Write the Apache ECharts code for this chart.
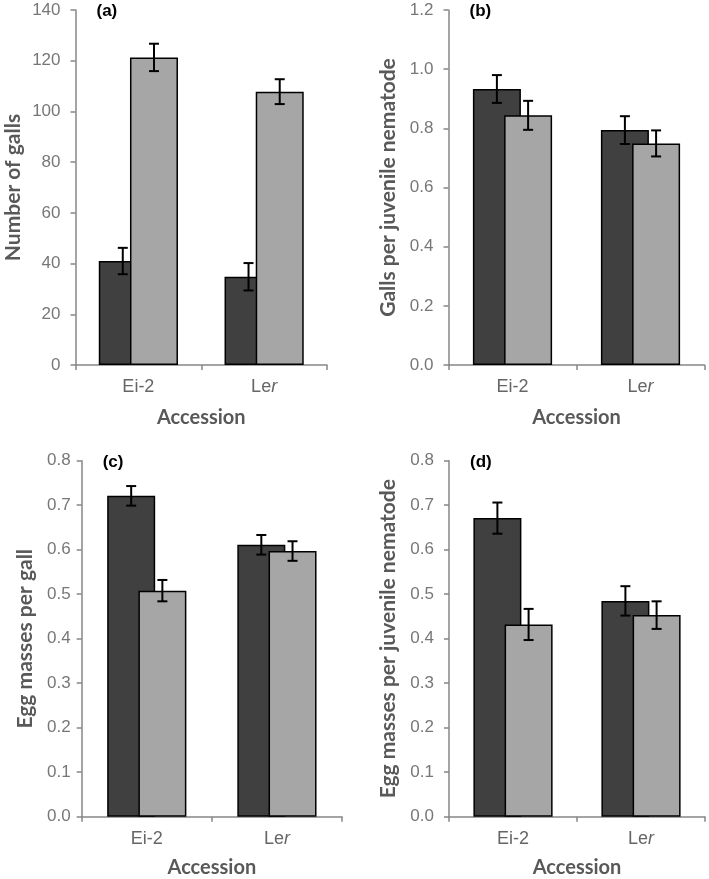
<!DOCTYPE html>
<html>
<head>
<meta charset="utf-8">
<script src="https://cdn.jsdelivr.net/npm/echarts@6/dist/echarts.min.js"></script>
<style>
html,body{margin:0;padding:0;background:#fff;}
#chart{width:709px;height:879px;}
</style>
</head>
<body>
<div id="chart"></div>
<script>
// ---- data ----
var categories = ['Ei-2', 'Ler'];

var gallsDark = [41.0, 34.8];
var gallsDarkErr = [5.2, 5.4];
var gallsLight = [121.3, 107.8];
var gallsLightErr = [5.4, 4.9];

var gpjDark = [0.933, 0.794];
var gpjDarkErr = [0.047, 0.047];
var gpjLight = [0.844, 0.749];
var gpjLightErr = [0.049, 0.044];

var emgDark = [0.721, 0.611];
var emgDarkErr = [0.022, 0.022];
var emgLight = [0.508, 0.597];
var emgLightErr = [0.024, 0.022];

var emjDark = [0.671, 0.485];
var emjDarkErr = [0.035, 0.033];
var emjLight = [0.432, 0.453];
var emjLightErr = [0.035, 0.031];

var panelLabels = ['(a)', '(b)', '(c)', '(d)'];
var yNames = ['Number of galls', 'Galls per juvenile nematode', 'Egg masses per gall', 'Egg masses per juvenile nematode'];
var xName = 'Accession';
var yMax = [140, 1.2, 0.8, 0.8];
var yStep = [20, 0.2, 0.1, 0.1];
var yDecimals = [0, 1, 1, 1];

// ---- style ----
var DARK = '#404040', LIGHT = '#a6a6a6';
var BAR_W = 48, BAR_GAP = -0.35;
var AXIS_COLOR = '#868686';
var grids = [
  {left: 75.5, top: 10, width: 251.5, height: 355},
  {left: 448.5, top: 10, width: 256, height: 355},
  {left: 81.7, top: 460.7, width: 260.3, height: 356},
  {left: 449, top: 460.7, width: 256, height: 356}
];
var yNameGaps = [52, 50, 46, 50];
var yLabelMargins = [15, 15, 11, 15];
var xNameGaps = [43, 43, 41, 41];

var panels = [
  [gallsDark, gallsDarkErr, gallsLight, gallsLightErr],
  [gpjDark, gpjDarkErr, gpjLight, gpjLightErr],
  [emgDark, emgDarkErr, emgLight, emgLightErr],
  [emjDark, emjDarkErr, emjLight, emjLightErr]
];

function errRender(offsetSign) {
  return function (params, api) {
    var c = api.value(0);
    var lo = api.coord([c, api.value(1)]);
    var hi = api.coord([c, api.value(2)]);
    var off = offsetSign * BAR_W * (1 + BAR_GAP) / 2;
    var x = lo[0] + off;
    var cap = 5;
    var st = {stroke: '#000', lineWidth: 2};
    return {
      type: 'group',
      children: [
        {type: 'line', shape: {x1: x, y1: hi[1], x2: x, y2: lo[1]}, style: st},
        {type: 'line', shape: {x1: x - cap, y1: hi[1], x2: x + cap, y2: hi[1]}, style: st},
        {type: 'line', shape: {x1: x - cap, y1: lo[1], x2: x + cap, y2: lo[1]}, style: st}
      ]
    };
  };
}

var option = {
  backgroundColor: '#fff',
  animation: false,
  title: [],
  grid: [],
  xAxis: [],
  yAxis: [],
  series: []
};

grids.forEach(function (g, i) {
  option.grid.push({left: g.left, top: g.top, width: g.width, height: g.height, containLabel: false});
  option.title.push({
    text: panelLabels[i],
    left: g.left + 16, top: g.top - 12,
    textStyle: {fontFamily: 'Liberation Sans', fontWeight: 'bold', fontSize: 17, color: '#000'}
  });
  option.xAxis.push({
    type: 'category', gridIndex: i, data: categories, boundaryGap: true,
    name: xName, nameLocation: 'middle', nameGap: xNameGaps[i],
    nameTextStyle: {fontFamily: 'Lato', fontWeight: 'bold', fontSize: 20, color: '#595959'},
    axisLine: {show: true, lineStyle: {color: AXIS_COLOR, width: 1.5}},
    axisTick: {show: true, inside: false, length: 5, alignWithLabel: false, lineStyle: {color: AXIS_COLOR, width: 1.5}},
    axisLabel: {
      margin: 13, fontFamily: 'Liberation Sans', fontSize: 18, color: '#666',
      formatter: function (v) { return v === 'Ler' ? 'Le{it|r}' : v; },
      rich: {it: {fontStyle: 'italic', fontFamily: 'Liberation Sans', fontSize: 18, color: '#666'}}
    },
    splitLine: {show: false}
  });
  option.yAxis.push({
    type: 'value', gridIndex: i, min: 0, max: yMax[i], interval: yStep[i],
    name: yNames[i], nameLocation: 'middle', nameGap: yNameGaps[i], nameRotate: 90,
    nameTextStyle: {fontFamily: 'Lato', fontWeight: 'bold', fontSize: 21, color: '#595959'},
    axisLine: {show: true, lineStyle: {color: AXIS_COLOR, width: 1.5}},
    axisTick: {show: true, inside: false, length: 5, lineStyle: {color: AXIS_COLOR, width: 1.5}},
    axisLabel: {
      margin: yLabelMargins[i], fontFamily: 'Liberation Sans', fontSize: 17, color: '#777',
      formatter: (function (d) { return function (v) { return v.toFixed(d); }; })(yDecimals[i])
    },
    splitLine: {show: false}
  });
  var p = panels[i];
  option.series.push({
    type: 'bar', xAxisIndex: i, yAxisIndex: i, data: p[0],
    barWidth: BAR_W, barGap: (BAR_GAP * 100) + '%',
    itemStyle: {color: DARK, borderColor: '#000', borderWidth: 1.5}, z: 2
  });
  option.series.push({
    type: 'bar', xAxisIndex: i, yAxisIndex: i, data: p[2],
    barWidth: BAR_W, barGap: (BAR_GAP * 100) + '%',
    itemStyle: {color: LIGHT, borderColor: '#000', borderWidth: 1.5}, z: 3
  });
  option.series.push({
    type: 'custom', xAxisIndex: i, yAxisIndex: i, z: 5,
    renderItem: errRender(-1),
    data: p[0].map(function (v, k) { return [k, v - p[1][k], v + p[1][k]]; })
  });
  option.series.push({
    type: 'custom', xAxisIndex: i, yAxisIndex: i, z: 5,
    renderItem: errRender(1),
    data: p[2].map(function (v, k) { return [k, v - p[3][k], v + p[3][k]]; })
  });
});

var chart = echarts.init(document.getElementById('chart'), null, {renderer: 'canvas'});
chart.setOption(option);
</script>
</body>
</html>
